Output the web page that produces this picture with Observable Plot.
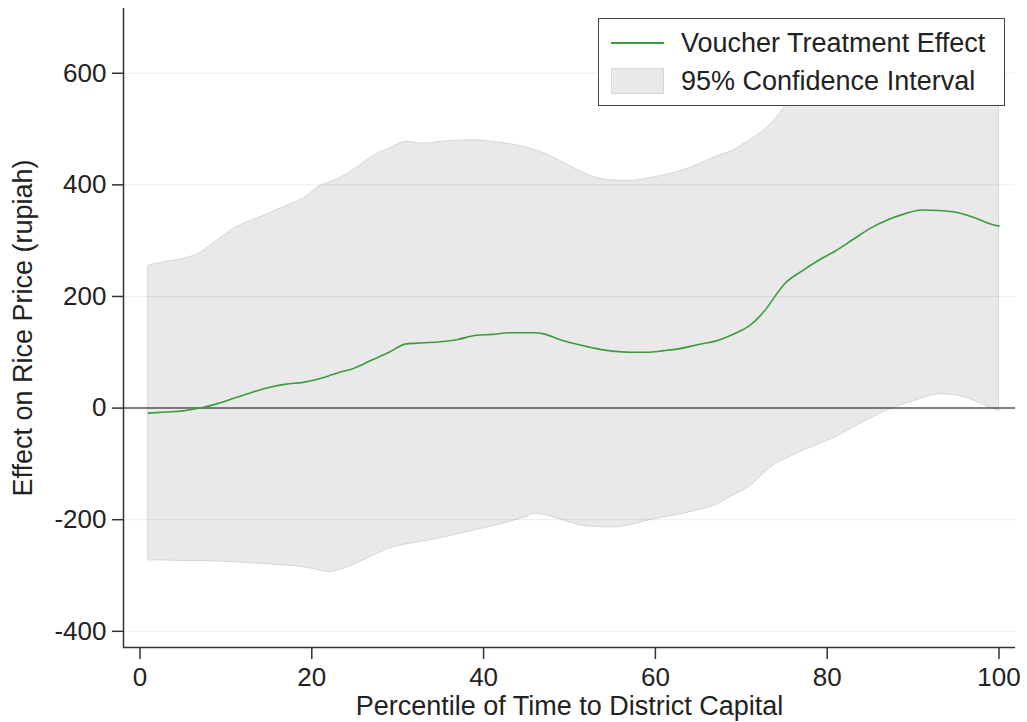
<!DOCTYPE html>
<html>
<head>
<meta charset="utf-8">
<script src="https://cdn.jsdelivr.net/npm/d3@7"></script>
<script src="https://cdn.jsdelivr.net/npm/@observablehq/plot@0.6"></script>
<style>
  body { margin: 0; background: #fff; }
  #wrap { position: relative; width: 1027px; height: 722px; font-family: "Liberation Sans", Arial, Helvetica, sans-serif; color: #222; }
  #legend { position: absolute; left: 598px; top: 18px; width: 405px; height: 86px; border: 1.5px solid #444; background: #fff; }
  #legend .line { position: absolute; left: 12px; top: 23px; width: 53px; height: 2px; background: #3c9c3c; }
  #legend .swatch { position: absolute; left: 12px; top: 49px; width: 51px; height: 24px; background: #e9e9e9; border: 1px solid #d6d6d6; }
  #legend .txt { position: absolute; left: 82px; font-size: 27px; line-height: 27px; white-space: nowrap; }
</style>
</head>
<body>
<div id="wrap"></div>
<script>
// Percentile of time to district capital
const pct = [1,3,5,7,9,11,13,15,17,19,21,22,23,25,27,29,31,33,35,37,39,41,43,45,46,47,49,51,53,55,57,59,61,63,65,67,69,71,72,73,74,75,77,79,81,83,85,87,89,91,93,95,97,99,100];
// Voucher treatment effect (rupiah)
const effect = [-9,-7,-5,0,8,18,28,37,43,46,53,58,63,72,86,100,115,117,119,123,130,132,135,135,135,133,122,114,107,102,100,100,103,107,114,120,132,148,162,180,202,222,245,265,282,302,322,337,348,355,354,351,342,330,326];
// 95% CI upper bound
const ciUpper = [255,262,267,278,300,322,336,348,362,375,398,404,410,428,450,465,477,474,477,479,480,477,473,467,462,457,442,426,413,408,407,411,417,425,436,450,461,480,490,502,518,538,570,597,617,635,655,668,676,682,683,680,674,665,657];
// 95% CI lower bound
const ciLower = [-273,-273,-274,-274,-275,-276,-278,-280,-282,-285,-291,-294,-291,-280,-266,-252,-244,-239,-233,-226,-219,-212,-204,-195,-189,-191,-200,-209,-213,-214,-210,-202,-196,-190,-183,-174,-157,-140,-127,-112,-100,-92,-78,-65,-52,-35,-19,-4,7,17,25,23,14,0,-5];

const xTicks = [0,20,40,60,80,100];
const yTicks = [-400,-200,0,200,400,600];
const gridLines = [-400,-200,200,400,600];
const xDomain = [-1.92, 101.92];
const yDomain = [-429, 716];

const rows = pct.map((p, i) => ({p, effect: effect[i], lo: ciLower[i], hi: ciUpper[i]}));

const chart = Plot.plot({
  width: 1027,
  height: 722,
  marginLeft: 123,
  marginRight: 12,
  marginTop: 8,
  marginBottom: 75,
  style: {fontFamily: '"Liberation Sans", Arial, Helvetica, sans-serif', fontSize: "26px", color: "#222", background: "#fff"},
  x: {domain: xDomain},
  y: {domain: yDomain},
  marks: [
    Plot.areaY(rows, {x: "p", y1: "lo", y2: "hi", curve: "monotone-x", fill: "#e9e9e9", stroke: "#d6d6d6", strokeWidth: 1}),
    Plot.ruleY(gridLines, {stroke: "#000", strokeOpacity: 0.075, strokeWidth: 1}),
    Plot.ruleY([0], {stroke: "#555", strokeWidth: 1.5}),
    Plot.lineY(rows, {x: "p", y: "effect", curve: "monotone-x", stroke: "#3c9c3c", strokeWidth: 1.6}),
    Plot.ruleX([xDomain[0]], {stroke: "#333", strokeWidth: 1.5}),
    Plot.ruleY([yDomain[0]], {stroke: "#333", strokeWidth: 1.5}),
    Plot.axisY({ticks: yTicks, tickSize: 11, tickPadding: 6, tickFormat: d => String(d), label: null, stroke: "#333", strokeWidth: 1.5}),
    Plot.axisX({ticks: xTicks, tickSize: 12, tickPadding: 8, tickFormat: d => String(d), label: null, stroke: "#333", strokeWidth: 1.5}),
    Plot.text(["Percentile of Time to District Capital"], {frameAnchor: "bottom", dy: 59, lineAnchor: "middle", textAnchor: "middle", fontSize: 27, fill: "#222"}),
    Plot.text(["Effect on Rice Price (rupiah)"], {frameAnchor: "left", dx: -100, rotate: -90, lineAnchor: "middle", textAnchor: "middle", fontSize: 27, fill: "#222"})
  ]
});

const wrap = document.getElementById("wrap");
wrap.appendChild(chart);
const legend = document.createElement("div");
legend.id = "legend";
legend.innerHTML = '<div class="line"></div><div class="txt" style="top:11px">Voucher Treatment Effect</div>' +
  '<div class="swatch"></div><div class="txt" style="top:49px">95% Confidence Interval</div>';
wrap.appendChild(legend);
</script>
</body>
</html>
